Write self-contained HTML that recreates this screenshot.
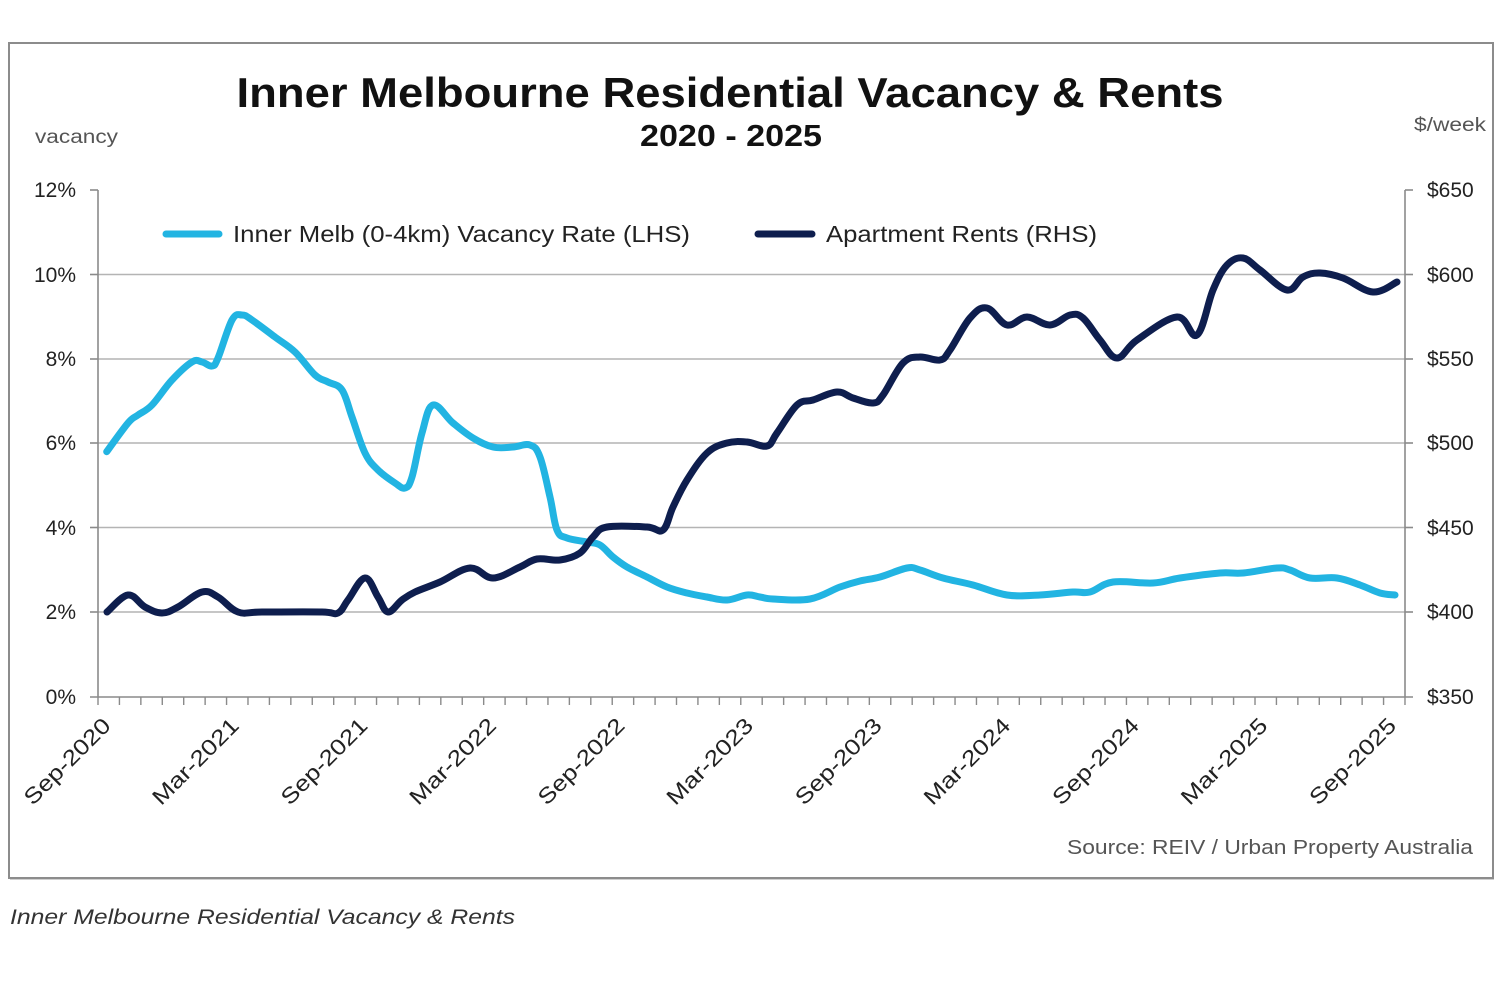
<!DOCTYPE html>
<html>
<head>
<meta charset="utf-8">
<style>
  html, body { margin: 0; padding: 0; background: #ffffff; }
  svg { display: block; }
  text { font-family: "Liberation Sans", Arial, sans-serif; }
</style>
</head>
<body>
<svg id="chart" width="1500" height="1000" viewBox="0 0 1500 1000" xmlns="http://www.w3.org/2000/svg">
  <rect x="0" y="0" width="1500" height="1000" fill="#ffffff"/>
  <!-- outer frame -->
  <rect x="9" y="43" width="1484" height="835" fill="#ffffff" stroke="#8c8c8c" stroke-width="2"/>
  <line x1="10" y1="879.5" x2="1494" y2="879.5" stroke="#cfcfcf" stroke-width="1"/>

  <!-- titles -->
  <text x="730" y="107" font-size="42" font-weight="bold" fill="#111" text-anchor="middle" textLength="987" lengthAdjust="spacingAndGlyphs">Inner Melbourne Residential Vacancy &amp; Rents</text>
  <text x="731" y="146" font-size="31" font-weight="bold" fill="#111" text-anchor="middle" textLength="182" lengthAdjust="spacingAndGlyphs">2020 - 2025</text>
  <text x="35" y="143" font-size="19" fill="#555" textLength="83" lengthAdjust="spacingAndGlyphs">vacancy</text>
  <text x="1414" y="131" font-size="19" fill="#555" textLength="72" lengthAdjust="spacingAndGlyphs">$/week</text>

  <!-- gridlines -->
  <g stroke="#b4b4b4" stroke-width="1.5">
    <line x1="98" y1="274.5" x2="1405" y2="274.5"/>
    <line x1="98" y1="359" x2="1405" y2="359"/>
    <line x1="98" y1="443" x2="1405" y2="443"/>
    <line x1="98" y1="527.5" x2="1405" y2="527.5"/>
    <line x1="98" y1="612" x2="1405" y2="612"/>
  </g>

  <!-- axes -->
  <g stroke="#8a8a8a" stroke-width="1.6">
    <line x1="98" y1="190" x2="98" y2="697"/>
    <line x1="1405" y1="190" x2="1405" y2="697"/>
    <line x1="90" y1="697" x2="1413" y2="697"/>
    <!-- left ticks -->
    <line x1="90" y1="190" x2="98" y2="190"/>
    <line x1="90" y1="274.5" x2="98" y2="274.5"/>
    <line x1="90" y1="359" x2="98" y2="359"/>
    <line x1="90" y1="443" x2="98" y2="443"/>
    <line x1="90" y1="527.5" x2="98" y2="527.5"/>
    <line x1="90" y1="612" x2="98" y2="612"/>
    <!-- right ticks -->
    <line x1="1405" y1="190" x2="1413" y2="190"/>
    <line x1="1405" y1="274.5" x2="1413" y2="274.5"/>
    <line x1="1405" y1="359" x2="1413" y2="359"/>
    <line x1="1405" y1="443" x2="1413" y2="443"/>
    <line x1="1405" y1="527.5" x2="1413" y2="527.5"/>
    <line x1="1405" y1="612" x2="1413" y2="612"/>
  </g>
  <g id="xticks" stroke="#8a8a8a" stroke-width="1.4"></g>

  <!-- left labels -->
  <g font-size="21" fill="#222" text-anchor="end">
    <text x="76" y="197">12%</text>
    <text x="76" y="282">10%</text>
    <text x="76" y="366">8%</text>
    <text x="76" y="450">6%</text>
    <text x="76" y="535">4%</text>
    <text x="76" y="619">2%</text>
    <text x="76" y="704">0%</text>
  </g>
  <!-- right labels -->
  <g font-size="21" fill="#222">
    <text x="1427" y="197">$650</text>
    <text x="1427" y="282">$600</text>
    <text x="1427" y="366">$550</text>
    <text x="1427" y="450">$500</text>
    <text x="1427" y="535">$450</text>
    <text x="1427" y="619">$400</text>
    <text x="1427" y="704">$350</text>
  </g>

  <!-- x labels -->
  <g font-size="22" fill="#222" text-anchor="end">
    <text transform="translate(112,727) rotate(-45)" textLength="112" lengthAdjust="spacingAndGlyphs">Sep-2020</text>
    <text transform="translate(240.3,727) rotate(-45)" textLength="112" lengthAdjust="spacingAndGlyphs">Mar-2021</text>
    <text transform="translate(368.9,727) rotate(-45)" textLength="112" lengthAdjust="spacingAndGlyphs">Sep-2021</text>
    <text transform="translate(497.5,727) rotate(-45)" textLength="112" lengthAdjust="spacingAndGlyphs">Mar-2022</text>
    <text transform="translate(626.0,727) rotate(-45)" textLength="112" lengthAdjust="spacingAndGlyphs">Sep-2022</text>
    <text transform="translate(754.6,727) rotate(-45)" textLength="112" lengthAdjust="spacingAndGlyphs">Mar-2023</text>
    <text transform="translate(883.2,727) rotate(-45)" textLength="112" lengthAdjust="spacingAndGlyphs">Sep-2023</text>
    <text transform="translate(1011.8,727) rotate(-45)" textLength="112" lengthAdjust="spacingAndGlyphs">Mar-2024</text>
    <text transform="translate(1140.4,727) rotate(-45)" textLength="112" lengthAdjust="spacingAndGlyphs">Sep-2024</text>
    <text transform="translate(1268.9,727) rotate(-45)" textLength="112" lengthAdjust="spacingAndGlyphs">Mar-2025</text>
    <text transform="translate(1397.5,727) rotate(-45)" textLength="112" lengthAdjust="spacingAndGlyphs">Sep-2025</text>
  </g>

  <!-- legend -->
  <line x1="166" y1="234" x2="219" y2="234" stroke="#22b4e2" stroke-width="7" stroke-linecap="round"/>
  <text x="233" y="242" font-size="23" fill="#222" textLength="457" lengthAdjust="spacingAndGlyphs">Inner Melb (0-4km) Vacancy Rate (LHS)</text>
  <line x1="758" y1="234" x2="812" y2="234" stroke="#0e1e4e" stroke-width="7" stroke-linecap="round"/>
  <text x="826" y="242" font-size="23" fill="#222" textLength="271" lengthAdjust="spacingAndGlyphs">Apartment Rents (RHS)</text>

  <!-- series -->
  <polyline id="vac" fill="none" stroke="#22b4e2" stroke-width="7" stroke-linejoin="round" stroke-linecap="round"
    points="106.7,451.7 128,423 138,415 152,405 172,380 192,362 202,362 212,366 218,358 232,320 242,315 252,320 275,337 295,352 315,375 328,382 342,390 352,417 365,453 378,470 395,483 405,488 412,477 422,433 433,405 453,423 473,438 493,447 513,447 530,445 540,457 550,497 557,530 567,538 587,542 600,545 613,557 627,567 647,577 667,587 687,593 707,597 727,600 747,595 760,597 773,599 810,599 840,587 860,581 880,577 907,568 920,570 943,578 973,585 1007,595 1040,595 1073,592 1090,592 1113,582 1153,583 1180,578 1220,573 1243,573 1277,568 1290,570 1310,578 1337,578 1360,585 1380,593 1395,595"/>
  <polyline id="rent" fill="none" stroke="#0e1e4e" stroke-width="7" stroke-linejoin="round" stroke-linecap="round"
    points="107,612 128,595 145,607 162,613 178,607 202,592 218,597 238,612 262,612 322,612 338,613 348,600 365,578 378,597 388,612 402,600 415,592 440,582 470,568 493,578 520,567 537,559 560,560 580,553 593,537 607,527 647,527 663,530 673,507 687,480 707,453 727,443 747,442 767,446 777,433 797,405 813,400 837,392 853,398 873,403 883,395 903,363 920,357 940,360 950,350 970,318 987,308 1007,325 1027,317 1050,325 1070,315 1083,318 1100,340 1117,358 1137,340 1177,317 1197,335 1213,290 1227,265 1243,258 1260,270 1287,290 1303,277 1320,273 1343,278 1373,292 1397,282"/>

  <!-- source & caption -->
  <text x="1473" y="854" font-size="20" fill="#555" text-anchor="end" textLength="406" lengthAdjust="spacingAndGlyphs">Source: REIV / Urban Property Australia</text>
  <text x="10" y="924" font-size="21" font-style="italic" fill="#333" textLength="505" lengthAdjust="spacingAndGlyphs">Inner Melbourne Residential Vacancy &amp; Rents</text>
</svg>
<script>
(function(){
  var NS = "http://www.w3.org/2000/svg";
  var g = document.getElementById("xticks");
  for (var k = 0; k <= 61; k++) {
    var x = 98 + 21.426 * k;
    var l = document.createElementNS(NS, "line");
    l.setAttribute("x1", x); l.setAttribute("x2", x);
    l.setAttribute("y1", 697); l.setAttribute("y2", 705);
    g.appendChild(l);
  }
  function smooth(id){
    var pl = document.getElementById(id);
    var raw = pl.getAttribute("points").trim().split(/\s+/).map(function(p){var a=p.split(",");return [parseFloat(a[0]),parseFloat(a[1])];});
    var d = "M" + raw[0][0] + "," + raw[0][1];
    for (var i = 0; i < raw.length - 1; i++) {
      var p0 = raw[i-1] || raw[i], p1 = raw[i], p2 = raw[i+1], p3 = raw[i+2] || raw[i+1];
      var t = 0.18;
      var c1x = p1[0] + (p2[0]-p0[0])*t, c1y = p1[1] + (p2[1]-p0[1])*t;
      var c2x = p2[0] - (p3[0]-p1[0])*t, c2y = p2[1] - (p3[1]-p1[1])*t;
      d += " C" + c1x.toFixed(1) + "," + c1y.toFixed(1) + " " + c2x.toFixed(1) + "," + c2y.toFixed(1) + " " + p2[0] + "," + p2[1];
    }
    var path = document.createElementNS(NS, "path");
    path.setAttribute("d", d);
    ["fill","stroke","stroke-width","stroke-linejoin","stroke-linecap"].forEach(function(a){path.setAttribute(a, pl.getAttribute(a));});
    pl.parentNode.replaceChild(path, pl);
  }
  smooth("vac"); smooth("rent");
})();
</script>
</body>
</html>
